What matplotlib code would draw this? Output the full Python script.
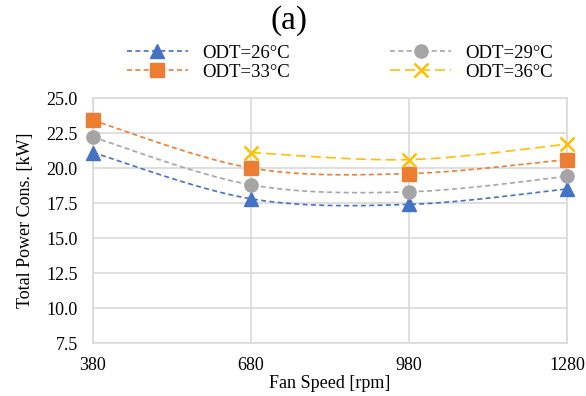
import numpy as np
import matplotlib
matplotlib.use("Agg")
import matplotlib.pyplot as plt

plt.rcParams['font.family'] = ['Liberation Serif', 'DejaVu Serif']

fan_speed = [380, 680, 980, 1280]
odt_26 = [21.1, 17.8, 17.4, 18.5]
odt_29 = [22.2, 18.8, 18.3, 19.4]
odt_33 = [23.4, 20.0, 19.6, 20.6]
odt_36_speed = [680, 980, 1280]
odt_36 = [21.1, 20.6, 21.7]


def smooth(xs, ys, n=40):
    # Catmull-Rom style bezier, like a spreadsheet "smoothed line"
    p = np.column_stack([xs, ys]).astype(float)
    pts = np.vstack([p[0], p, p[-1]])
    out = []
    t = np.linspace(0, 1, n)[:, None]
    for i in range(1, len(pts) - 2):
        p0, p1, p2, p3 = pts[i - 1], pts[i], pts[i + 1], pts[i + 2]
        c1 = p1 + (p2 - p0) / 6
        c2 = p2 - (p3 - p1) / 6
        seg = ((1 - t) ** 3) * p1 + 3 * ((1 - t) ** 2) * t * c1 + 3 * (1 - t) * t ** 2 * c2 + t ** 3 * p2
        out.append(seg if i == 1 else seg[1:])
    seg = np.vstack(out)
    return seg[:, 0], seg[:, 1]


fig = plt.figure(figsize=(5.86, 3.96), dpi=100)
ax = fig.add_axes([0.1587, 0.1338, 0.8089, 0.6187])

series = [
    (fan_speed, odt_26, '#4472C4', '^', 'ODT=26°C', (3, 2)),
    (fan_speed, odt_29, '#A5A5A5', 'o', 'ODT=29°C', (3, 2)),
    (fan_speed, odt_33, '#ED7D31', 's', 'ODT=33°C', (3, 2)),
    (odt_36_speed, odt_36, '#FFC000', 'x', 'ODT=36°C', (6, 3)),
]

handles = {}
for xs, ys, color, marker, label, dash in series:
    sx, sy = smooth(xs, ys)
    ax.plot(sx, sy, color=color, lw=1.2, dashes=dash, zorder=3)
    ms = 10 if marker == 'x' else 9.5
    ax.plot(xs, ys, linestyle='none', marker=marker, color=color, ms=ms,
            mew=1.8 if marker == 'x' else 1, zorder=4, clip_on=False)
    h, = ax.plot([], [], color=color, lw=1.2, dashes=dash, marker=marker,
                 ms=ms, mew=1.8 if marker == 'x' else 1)
    handles[label] = h

ax.set_xlim(380, 1280)
ax.set_ylim(7.5, 25.0)
ax.set_xticks(fan_speed)
ax.set_yticks(np.arange(7.5, 25.01, 2.5))
ax.yaxis.set_major_formatter(matplotlib.ticker.FormatStrFormatter('%.1f'))
ax.grid(True, color='#d9d9d9', lw=1.2)
ax.set_axisbelow(True)
for s in ax.spines.values():
    s.set_color('#d9d9d9')
    s.set_linewidth(1.2)
ax.tick_params(length=0, labelsize=13, pad=11)
ax.tick_params(axis='x', pad=10)
ax.set_xlabel('Fan Speed [rpm]', fontsize=13, labelpad=1)
ax.set_ylabel('Total Power Cons. [kW]', fontsize=13, labelpad=9)

fig.text(0.493, 0.948, '(a)', ha='center', va='center', fontsize=24)

# column-major fill: rows read 26/29 then 33/36
order = ['ODT=26°C', 'ODT=33°C', 'ODT=29°C', 'ODT=36°C']
fig.legend([handles[k] for k in order], order, ncol=2, loc='center',
           bbox_to_anchor=(0.580, 0.842), frameon=False, fontsize=13.5,
           handlelength=3.3, columnspacing=5.3, handletextpad=0.75,
           labelspacing=0.1, numpoints=1)

fig.savefig('out.png', dpi=100)
